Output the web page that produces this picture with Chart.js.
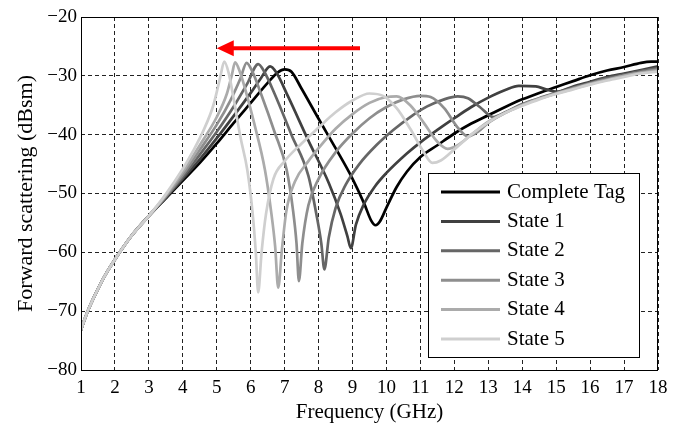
<!DOCTYPE html>
<html>
<head>
<meta charset="utf-8">
<title>Forward scattering</title>
<script src="https://cdn.jsdelivr.net/npm/chart.js@4/dist/chart.umd.min.js"></script>
<style>
  html, body { margin: 0; padding: 0; background: #fff; }
  canvas { display: block; }
</style>
</head>
<body>
<canvas id="rcs" width="686" height="427"></canvas>
<script>
// ── Data (GHz / dBsm) ─────────────────────────────────────────────────
// All states share the same low-frequency slope up to 3 GHz
const baseFreq = [1, 1.1, 1.25, 1.5, 1.75, 2, 2.5, 3];
const baseDb   = [-73.2, -71.5, -69.3, -66.2, -63.5, -61.2, -57.1, -53.8];

const tagFreq = [3.5, 4, 4.5, 5, 5.5, 6, 6.5, 6.8, 7.0, 7.2, 7.5, 8, 8.5, 9, 9.35, 9.55, 9.68, 9.8, 10, 10.3, 10.6, 11, 11.5, 12, 12.5, 13, 13.5, 14, 14.5, 15, 15.5, 16, 16.5, 17, 17.5, 17.8, 18];
const tagDb   = [-50.8, -47.8, -44.8, -41.5, -38, -34.6, -31.2, -29.4, -28.9, -29.3, -32.2, -37.3, -42.3, -47.5, -51.8, -54.6, -55.4, -54.8, -52.4, -48.9, -46.3, -43.8, -41.8, -39.8, -38.1, -36.7, -35.3, -34, -32.9, -31.9, -30.9, -29.9, -29.1, -28.5, -27.8, -27.6, -27.6];

const s1Freq = [3.5, 4, 4.5, 5, 5.5, 6, 6.3, 6.57, 6.75, 7.1, 7.7, 8.3, 8.65, 8.85, 8.95, 9.1, 9.32, 9.66, 10, 10.6, 11, 11.5, 12, 12.5, 13, 13.5, 13.9, 14.4, 14.7, 15, 15.5, 16, 16.5, 17, 17.5, 18];
const s1Db   = [-50.7, -47.5, -44.2, -40.6, -36.8, -32.9, -30.4, -28.4, -29.4, -33.5, -41, -48.2, -53.5, -57.3, -59.3, -55.3, -52, -48.8, -46.5, -43.2, -41.3, -39.2, -37.2, -35.3, -33.7, -32.4, -31.7, -31.8, -32.3, -32.7, -31.8, -31, -30.2, -29.6, -29, -28.4];

const s2Freq = [3.5, 4, 4.5, 5, 5.5, 5.9, 6.22, 6.4, 6.7, 7.2, 7.7, 7.95, 8.08, 8.17, 8.3, 8.5, 8.8, 9.2, 9.7, 10.2, 10.7, 11.2, 11.7, 12.1, 12.4, 12.75, 13.15, 13.5, 14, 14.5, 15, 15.5, 16, 16.5, 17, 17.5, 18];
const s2Db   = [-50.6, -47.2, -43.4, -39.5, -35.2, -31.3, -28, -29.3, -33, -40, -47, -54, -58.5, -62.9, -57.5, -52.5, -48.5, -45, -41.8, -39.2, -37, -35.2, -34, -33.5, -33.8, -35.3, -37, -36.2, -34.8, -33.8, -32.9, -32, -31.2, -30.4, -29.8, -29.2, -28.7];

const s3Freq = [3.5, 4, 4.5, 5, 5.4, 5.7, 5.88, 6.05, 6.3, 6.7, 7.06, 7.25, 7.35, 7.42, 7.52, 7.7, 8, 8.5, 9, 9.5, 10, 10.5, 11, 11.3, 11.7, 12.1, 12.4, 12.7, 13, 13.5, 14, 14.5, 15, 15.5, 16, 16.5, 17, 17.5, 18];
const s3Db   = [-50.5, -46.8, -42.6, -38.3, -34.2, -30.4, -27.8, -29.3, -33, -39.5, -46, -53, -58.5, -64.9, -58.5, -52, -47.5, -43, -39.8, -37.2, -35.3, -34, -33.4, -33.6, -35.5, -38.8, -40.3, -39.5, -38, -36.3, -34.9, -33.9, -33, -32.1, -31.3, -30.6, -30, -29.4, -28.9];

const s4Freq = [3.5, 4, 4.5, 5, 5.3, 5.45, 5.54, 5.68, 5.85, 6.1, 6.42, 6.6, 6.72, 6.81, 6.92, 7.05, 7.3, 7.7, 8, 8.5, 9, 9.5, 10, 10.3, 10.7, 11.1, 11.5, 11.8, 12.1, 12.5, 13, 13.5, 14, 14.5, 15, 15.5, 16, 16.5, 17, 17.5, 18];
const s4Db   = [-50.3, -46.3, -41.8, -37, -33, -29.7, -27.7, -29.3, -32.5, -38, -46, -53, -59, -66, -59.5, -53, -48, -44.5, -42.3, -39, -36.5, -34.6, -33.6, -33.5, -35, -38, -41.2, -42.4, -41.8, -40, -37.8, -36.3, -35, -33.9, -33, -32.2, -31.4, -30.7, -30, -29.5, -29.1];

const s5Freq = [3.5, 4, 4.3, 4.6, 4.9, 5.1, 5.22, 5.35, 5.5, 5.7, 5.9, 6.05, 6.15, 6.22, 6.32, 6.45, 6.67, 7, 7.5, 8, 8.5, 9, 9.5, 9.9, 10.3, 10.7, 11.1, 11.35, 11.6, 12, 12.5, 13, 13.5, 14, 14.5, 15, 15.5, 16, 16.5, 17, 17.5, 18];
const s5Db   = [-50.1, -45.8, -42.8, -39.4, -35, -30.3, -27.6, -29.5, -34, -40.5, -46, -53, -60, -66.8, -60, -53.5, -47.5, -44.5, -41.5, -38.8, -36.2, -34.2, -33, -33.4, -35.5, -39, -43, -44.8, -44.4, -42.5, -40, -37.9, -36.3, -35.1, -34, -33.1, -32.3, -31.5, -30.8, -30.2, -29.6, -29.3];

const seriesNames  = ['Complete Tag', 'State 1', 'State 2', 'State 3', 'State 4', 'State 5'];
const seriesFreqs  = [tagFreq, s1Freq, s2Freq, s3Freq, s4Freq, s5Freq];
const seriesDbs    = [tagDb, s1Db, s2Db, s3Db, s4Db, s5Db];
const seriesColors = ['#000000', '#404040', '#666666', '#8e8e8e', '#ababab', '#cfcfcf'];

const xTicks = [1, 2, 3, 4, 5, 6, 7, 8, 9, 10, 11, 12, 13, 14, 15, 16, 17, 18];
const yTicks = [-80, -70, -60, -50, -40, -30, -20];

// shift arrow (frequency / dBsm)
const arrowFrom = [9.22, -25.3];
const arrowTo   = [5.0, -25.3];

const SERIF = '"Liberation Serif", "Times New Roman", serif';

function toPoints(fr, db) {
  const all = baseFreq.concat(fr);
  const val = baseDb.concat(db);
  return all.map((f, i) => ({ x: f, y: val[i] }));
}

// ── Plugins ───────────────────────────────────────────────────────────
const framePlugin = {
  id: 'frame',
  afterDatasetsDraw(chart) {
    const { ctx, chartArea: a } = chart;
    ctx.save();
    ctx.strokeStyle = '#000';
    ctx.lineWidth = 1;
    ctx.setLineDash([]);
    ctx.strokeRect(a.left + 0.5, a.top + 0.5, a.right - a.left - 1, a.bottom - a.top);
    ctx.restore();
  }
};

const arrowPlugin = {
  id: 'shiftArrow',
  afterDatasetsDraw(chart) {
    const { ctx, scales: { x, y } } = chart;
    const x0 = x.getPixelForValue(arrowFrom[0]), y0 = y.getPixelForValue(arrowFrom[1]);
    const x1 = x.getPixelForValue(arrowTo[0]),   y1 = y.getPixelForValue(arrowTo[1]);
    const headLen = 17, headHalf = 8;
    ctx.save();
    ctx.strokeStyle = '#ff0000';
    ctx.fillStyle   = '#ff0000';
    ctx.lineWidth = 4;
    ctx.beginPath();
    ctx.moveTo(x0, y0);
    ctx.lineTo(x1 + headLen - 2, y1);
    ctx.stroke();
    ctx.beginPath();
    ctx.moveTo(x1, y1);
    ctx.lineTo(x1 + headLen, y1 - headHalf);
    ctx.lineTo(x1 + headLen, y1 + headHalf);
    ctx.closePath();
    ctx.fill();
    ctx.restore();
  }
};

const legendBoxPlugin = {
  id: 'legendBox',
  afterDraw(chart) {
    const { ctx } = chart;
    const left = 428, top = 173, w = 211, h = 184;
    ctx.save();
    ctx.fillStyle = '#fff';
    ctx.fillRect(left, top, w, h);
    ctx.strokeStyle = '#000';
    ctx.lineWidth = 1;
    ctx.strokeRect(left + 0.5, top + 0.5, w, h);
    ctx.font = '21px ' + SERIF;
    ctx.textBaseline = 'middle';
    ctx.textAlign = 'left';
    seriesNames.forEach((name, i) => {
      const ry = top + 19 + i * 29.4;
      ctx.strokeStyle = seriesColors[i];
      ctx.lineWidth = 3;
      ctx.beginPath();
      ctx.moveTo(441, ry);
      ctx.lineTo(500, ry);
      ctx.stroke();
      ctx.fillStyle = '#000';
      ctx.fillText(name, 507, ry);
    });
    ctx.restore();
  }
};

// ── Chart ─────────────────────────────────────────────────────────────
Chart.defaults.font.family = SERIF;
Chart.defaults.color = '#000';

const datasets = seriesNames.map((name, i) => ({
  label: name,
  data: toPoints(seriesFreqs[i], seriesDbs[i]),
  borderColor: seriesColors[i],
  borderWidth: 2.7,
  pointRadius: 0,
  cubicInterpolationMode: 'monotone',
  borderJoinStyle: 'round',
  borderCapStyle: 'round',
  order: seriesNames.length - i,
}));

new Chart(document.getElementById('rcs'), {
  type: 'line',
  data: { datasets },
  options: {
    responsive: false,
    animation: false,
    devicePixelRatio: 1,
    layout: { padding: { top: 17, right: 28, bottom: 0, left: 0 } },
    plugins: { legend: { display: false }, tooltip: { enabled: false } },
    scales: {
      x: {
        type: 'linear',
        min: 1, max: 18,
        afterFit: s => { s.height = 57; },
        afterBuildTicks: s => { s.ticks = xTicks.map(v => ({ value: v })); },
        ticks: { font: { size: 19 }, padding: 7, maxRotation: 0, autoSkip: false },
        grid: { color: '#222', lineWidth: 1, drawTicks: false },
        border: { display: false, dash: [4, 3] },
        title: { display: true, text: 'Frequency (GHz)', font: { size: 21 }, padding: { top: 0, bottom: 2 } },
      },
      y: {
        type: 'linear',
        min: -80, max: -20,
        afterFit: s => { s.width = 81; },
        afterBuildTicks: s => { s.ticks = yTicks.map(v => ({ value: v })); },
        // minus sign rather than hyphen on the dBsm labels
        ticks: { font: { size: 19 }, padding: 4, callback: v => (v < 0 ? '\u2212' : '') + Math.abs(v) },
        grid: { color: '#222', lineWidth: 1, drawTicks: false },
        border: { display: false, dash: [4, 3] },
        title: { display: true, text: 'Forward scattering (dBsm)', font: { size: 22 }, padding: { top: 13, bottom: 0 } },
      },
    },
  },
  plugins: [framePlugin, arrowPlugin, legendBoxPlugin],
});
</script>
</body>
</html>
